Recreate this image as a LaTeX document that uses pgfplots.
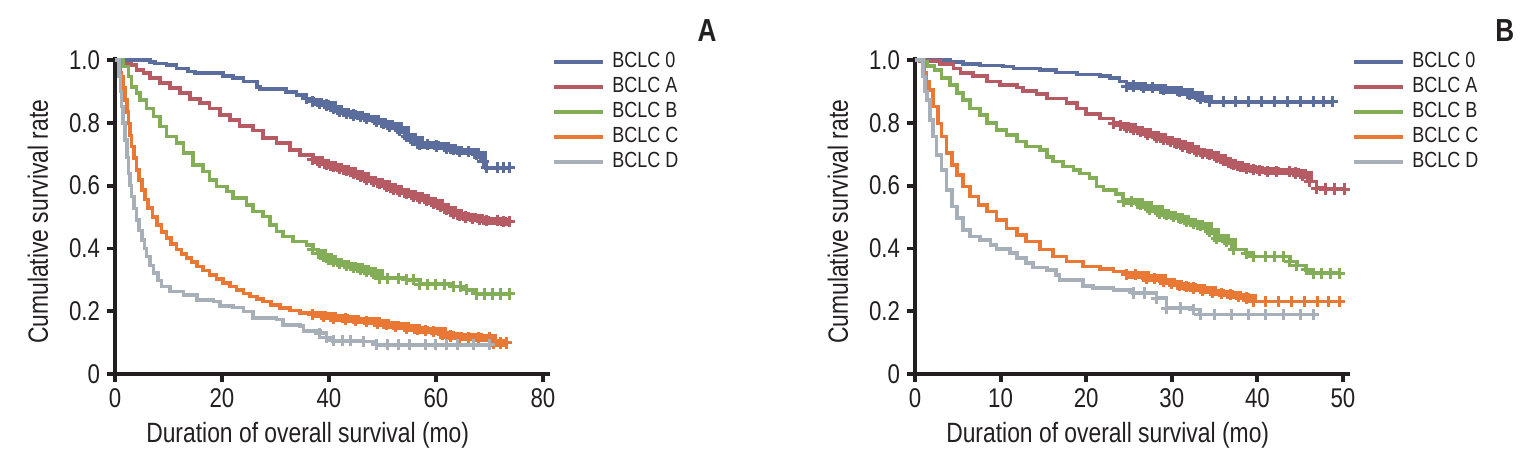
\documentclass[border=0pt]{standalone}
\usepackage{fontspec}
\setmainfont{Liberation Sans}[FakeStretch=0.82]
\usepackage{pgfplots}
\usepackage{pgfplotstable}
\pgfplotsset{compat=1.18}

\definecolor{c0}{HTML}{5A6D9D}
\definecolor{cA}{HTML}{B65A64}
\definecolor{cB}{HTML}{84AD57}
\definecolor{cC}{HTML}{E97834}
\definecolor{cD}{HTML}{A7AFB9}
\definecolor{ax}{HTML}{231F20}

% ---------------- Panel A ----------------
\pgfplotstableread{
t S
0 1
6.5 0.994
7.5 0.989
9.6 0.984
11.5 0.973
13.7 0.963
15 0.958
20.2 0.949
22.1 0.942
24 0.931
26.5 0.915
27.1 0.907
32 0.899
33.9 0.889
35.8 0.878
37 0.867
38.2 0.862
39.5 0.857
40.8 0.846
42 0.836
43.2 0.830
44.5 0.825
45.8 0.820
47 0.814
48.9 0.804
50.2 0.797
51.4 0.790
53.2 0.777
54.5 0.756
55.7 0.745
57 0.730
58.5 0.730
60.1 0.726
62 0.719
63.2 0.714
64.4 0.708
66 0.708
67.6 0.698
68.8 0.677
69.4 0.657
71.5 0.657
72.6 0.657
73.8 0.657
}\Azero
\pgfplotstableread{
t S
0 1
0.9 0.989
3.1 0.984
4 0.968
5.3 0.958
6.5 0.942
8.4 0.926
10.3 0.910
12.1 0.894
14 0.875
15.9 0.864
17.7 0.846
19.6 0.825
21.5 0.809
23.3 0.790
25.8 0.775
27.7 0.751
30.2 0.735
32.7 0.714
34.6 0.698
37 0.682
38.3 0.674
39.5 0.666
40.8 0.660
42 0.655
43.2 0.647
44.5 0.639
45.8 0.630
47 0.620
48.3 0.613
49.5 0.606
50.8 0.597
52 0.589
53.2 0.581
54.5 0.574
55.8 0.567
57 0.560
58.2 0.552
59.5 0.544
60.8 0.533
62 0.523
63.2 0.513
64.4 0.504
65.6 0.500
66.9 0.496
68.2 0.492
69.4 0.488
71.5 0.488
72.6 0.485
73.8 0.485
}\AA
\pgfplotstableread{
t S
0 1
1.6 0.979
2.5 0.947
3.1 0.915
4 0.894
4.7 0.873
5.9 0.846
7.2 0.820
8.4 0.788
9.6 0.756
11.5 0.735
12.8 0.703
14.6 0.666
16.5 0.645
17.7 0.618
19 0.597
20.9 0.581
22.1 0.560
24.6 0.539
25.8 0.517
27.7 0.502
29 0.475
30.2 0.454
31.4 0.438
33.3 0.422
35.8 0.411
37 0.396
38 0.385
38.9 0.374
40 0.366
40.8 0.358
42 0.352
43.3 0.345
44.5 0.340
45.8 0.334
47 0.328
48.3 0.321
49.5 0.305
51 0.305
53 0.305
54.5 0.300
55.8 0.300
57 0.286
58.5 0.286
60 0.286
61.5 0.286
63.2 0.279
64.5 0.279
65.7 0.268
67.6 0.255
69 0.255
70.5 0.255
72 0.255
73.8 0.255
}\AB
\pgfplotstableread{
t S
0 1
1.0 0.96
1.2 0.947
1.5 0.91
1.9 0.873
2.2 0.835
2.5 0.798
2.8 0.76
3.1 0.724
3.5 0.687
4 0.650
4.5 0.617
5 0.586
5.6 0.556
6.2 0.528
7 0.500
7.8 0.475
8.7 0.453
9.6 0.433
10.5 0.414
11.5 0.396
12.4 0.382
13.4 0.369
14.3 0.356
15.3 0.343
16.5 0.329
17.7 0.316
19 0.302
20.2 0.290
21.5 0.279
22.7 0.268
24 0.257
25.2 0.247
26.5 0.239
27.7 0.231
29.2 0.220
30.8 0.210
32.7 0.202
34.6 0.194
37 0.189
39 0.184
40.8 0.178
43 0.175
45 0.171
47 0.168
49 0.162
50.7 0.157
52.5 0.152
54.5 0.146
56.5 0.141
58 0.139
59.5 0.136
61.3 0.125
62.8 0.121
64.4 0.117
66 0.117
68 0.115
70 0.115
70.7 0.099
72 0.099
73.2 0.099
}\AC
\pgfplotstableread{
t S
0 1
0.8 0.95
1.0 0.90
1.2 0.852
1.5 0.80
1.9 0.746
2.2 0.69
2.5 0.639
2.8 0.60
3.1 0.565
3.5 0.527
4 0.491
4.5 0.457
5 0.427
5.5 0.40
5.9 0.374
6.5 0.346
7.2 0.321
8 0.298
8.7 0.279
10.3 0.263
12.8 0.252
15.3 0.236
18.4 0.231
19.6 0.217
22.1 0.212
24 0.199
25.8 0.178
30.2 0.173
31.4 0.157
34.6 0.152
35.2 0.136
38.3 0.130
39.5 0.115
40.8 0.106
42.5 0.106
44 0.106
46.4 0.104
48.9 0.093
51 0.093
53 0.093
55 0.093
58 0.093
60 0.093
62 0.093
64 0.093
67 0.093
70 0.093
}\AD

% ---------------- Panel B ----------------
\pgfplotstableread{
t S
0 1
4.1 0.994
5.6 0.987
7.6 0.982
10.3 0.979
11.5 0.973
14.6 0.968
16.5 0.960
18.9 0.954
21.6 0.950
22.8 0.942
23.9 0.931
24.7 0.917
25.5 0.917
26.7 0.913
27.8 0.913
29 0.905
30.9 0.899
32.1 0.889
33.3 0.878
34.4 0.867
36 0.867
37.5 0.867
39 0.867
40.5 0.867
42 0.867
43.5 0.867
45 0.867
46.5 0.867
47.7 0.867
48.8 0.867
}\Bzero
\pgfplotstableread{
t S
0 1
0.6 0.997
2.9 0.987
4.5 0.973
5.3 0.958
6.8 0.949
8.4 0.931
9.9 0.920
11.9 0.913
12.6 0.902
14.2 0.892
15.4 0.878
17.7 0.864
18.9 0.846
20 0.828
21.6 0.814
23.2 0.799
24 0.792
24.7 0.786
25.5 0.779
26.3 0.772
27.2 0.763
28.2 0.754
29 0.747
29.8 0.740
30.6 0.733
31.3 0.726
32.1 0.717
32.9 0.708
33.6 0.703
34.4 0.698
35.2 0.689
36 0.680
36.6 0.673
37.2 0.666
38 0.660
38.7 0.655
39.5 0.651
40.3 0.648
41.2 0.646
42.2 0.645
43.7 0.645
44.5 0.640
45.3 0.634
46.1 0.613
46.9 0.592
47.9 0.589
49 0.589
50.2 0.589
}\BA
\pgfplotstableread{
t S
0 1
1 0.995
1.4 0.981
2.3 0.968
3.1 0.942
4.1 0.920
4.9 0.894
5.6 0.873
6.4 0.846
7.6 0.825
8.4 0.799
9.5 0.777
10.7 0.761
11.9 0.740
13 0.724
14.6 0.714
15.4 0.692
16.1 0.677
17.3 0.661
18.5 0.650
19.3 0.639
20.4 0.624
21.2 0.597
22 0.586
23.5 0.574
24.3 0.549
25.3 0.549
26.3 0.539
27.4 0.525
28.6 0.512
29.4 0.507
30.2 0.502
31 0.494
31.7 0.486
32.5 0.479
33.3 0.472
34.4 0.454
35.2 0.433
36.4 0.422
37.2 0.396
38.7 0.385
39.5 0.374
41 0.374
42 0.374
43 0.374
43.8 0.358
44.6 0.345
45.7 0.332
46.5 0.321
47.5 0.321
48.5 0.321
49.6 0.321
}\BB
\pgfplotstableread{
t S
0 1
1.05 0.958
1.3 0.93
1.6 0.905
2.1 0.852
2.7 0.798
3.1 0.756
3.7 0.703
4.3 0.666
4.9 0.634
5.6 0.597
6.4 0.565
7.4 0.539
8.4 0.517
9.5 0.491
10.7 0.464
11.9 0.443
13 0.422
14.6 0.396
16.1 0.374
17.7 0.358
19.6 0.343
21.6 0.334
23.2 0.327
24.7 0.316
25.8 0.316
27 0.305
28 0.305
29 0.295
30 0.288
30.9 0.281
31.7 0.278
32.5 0.274
33.6 0.267
34.8 0.260
35.8 0.256
36.8 0.252
37.8 0.247
38.7 0.242
39.5 0.231
41 0.231
42.5 0.231
44 0.231
45.5 0.231
47 0.231
48.3 0.231
49.6 0.231
}\BC
\pgfplotstableread{
t S
0 1
0.9 0.947
1.2 0.90
1.4 0.873
1.75 0.809
2.1 0.756
2.5 0.698
3.1 0.650
3.7 0.586
4.3 0.533
4.9 0.496
5.6 0.459
6.4 0.438
7.6 0.427
8.8 0.411
9.5 0.398
11.1 0.385
11.9 0.369
13 0.353
13.8 0.339
15.4 0.332
16.5 0.316
16.9 0.300
19.6 0.281
20.8 0.274
23.2 0.268
25.5 0.258
26.8 0.258
28.2 0.242
29.4 0.210
31 0.210
32.5 0.205
33.3 0.189
35 0.189
37 0.189
39 0.189
41 0.189
43 0.189
45 0.189
46.5 0.189
}\BD

\pgfplotsset{
  km/.style={
    scale only axis, width=217.5bp, height=158.5bp,
    xmin=0, ymin=0, ymax=1.0096,
    axis x line*=bottom, axis y line*=left,
    axis line style={line width=1.9bp, ax},
    tick align=outside, major tick length=4bp,
    every tick/.style={line width=1.9bp, ax},
    ytick={0,0.2,0.4,0.6,0.8,1.0},
    yticklabels={0,0.2,0.4,0.6,0.8,1.0},
    /pgf/number format/assume math mode=true,
    tick label style={font=\fontsize{13.6}{15}\selectfont, text=ax},
    label style={font=\fontsize{14}{16}\selectfont, text=ax},
    xlabel={Duration of overall survival (mo)},
    ylabel={Cumulative survival rate},
    xlabel style={at={(axis description cs:0.443,-0.192)}, anchor=center},
    ylabel style={at={(axis description cs:-0.177,0.48)}, anchor=center},
    clip=false,
    legend cell align=left,
    legend style={draw=none, fill=none, inner sep=0pt, row sep=0pt, column sep=2.5bp,
      at={(axis description cs:1,0.828)}, xshift=0.75bp, anchor=west,
      font=\fontsize{11}{12}\selectfont, text=ax,
      nodes={inner sep=1.25bp, text height=8bp, text depth=2bp}},
    legend image code/.code={\draw[#1, line width=2bp] (0bp,0bp) -- (24.5bp,0bp);},
  },
  kml/.style={const plot, line width=1.8bp, color=#1},
  band/.style={forget plot, const plot, line width=3.8bp, color=#1},
  cen/.style={forget plot, only marks, mark=+, mark size=2.8bp, color=#1, mark options={line width=1.5bp}},
}

\begin{document}
\begin{tikzpicture}
\useasboundingbox (0,0) rectangle (770bp,234bp);

\begin{axis}[km, at={(57.5bp,47bp)}, anchor=south west,
  xmax=81.31, xtick={0,20,40,60,80}]
  \addplot[kml=c0] table {\Azero};
  \addplot[kml=cA] table {\AA};
  \addplot[kml=cB] table {\AB};
  \addplot[kml=cC] table {\AC};
  \addplot[kml=cD] table {\AD};
  \addplot[band=c0, restrict x to domain=37:68.9] table {\Azero};
  \addplot[band=cA, restrict x to domain=37:74] table {\AA};
  \addplot[band=cB, restrict x to domain=38:50] table {\AB};
  \addplot[band=cC, restrict x to domain=37:73.5] table {\AC};
  \addplot[cen=c0, restrict x to domain=35:80] table {\Azero};
  \addplot[cen=cA, restrict x to domain=36:80] table {\AA};
  \addplot[cen=cB, restrict x to domain=36:80] table {\AB};
  \addplot[cen=cC, restrict x to domain=36:80] table {\AC};
  \addplot[cen=cD, restrict x to domain=38:80] table {\AD};
  \legend{BCLC 0, BCLC A, BCLC B, BCLC C, BCLC D}
  \node[font=\bfseries\fontsize{16}{18}\selectfont, text=ax] at (axis description cs:1.361,1.085) {A};
\end{axis}

\begin{axis}[km, at={(457.5bp,47bp)}, anchor=south west,
  xmax=50.82, xtick={0,10,20,30,40,50}]
  \addplot[kml=c0] table {\Bzero};
  \addplot[kml=cA] table {\BA};
  \addplot[kml=cB] table {\BB};
  \addplot[kml=cC] table {\BC};
  \addplot[kml=cD] table {\BD};
  \addplot[band=c0, restrict x to domain=24.5:34.5] table {\Bzero};
  \addplot[band=cA, restrict x to domain=24:46.2] table {\BA};
  \addplot[band=cB, restrict x to domain=24.2:37.3] table {\BB};
  \addplot[band=cC, restrict x to domain=24.5:39.6] table {\BC};
  \addplot[cen=c0, restrict x to domain=24:51] table {\Bzero};
  \addplot[cen=cA, restrict x to domain=23:51] table {\BA};
  \addplot[cen=cB, restrict x to domain=24:51] table {\BB};
  \addplot[cen=cC, restrict x to domain=24:51] table {\BC};
  \addplot[cen=cD, restrict x to domain=24:51] table {\BD};
  \legend{BCLC 0, BCLC A, BCLC B, BCLC C, BCLC D}
  \node[font=\bfseries\fontsize{16}{18}\selectfont, text=ax] at (axis description cs:1.356,1.085) {B};
\end{axis}
\end{tikzpicture}
\end{document}
